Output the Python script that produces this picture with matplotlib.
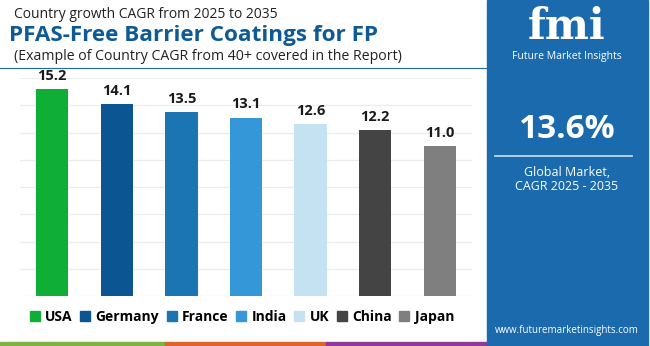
import matplotlib.pyplot as plt
from matplotlib.patches import Rectangle
from matplotlib.lines import Line2D

countries = ['USA', 'Germany', 'France', 'India', 'UK', 'China', 'Japan']
cagr = [15.2, 14.1, 13.5, 13.1, 12.6, 12.2, 11.0]
colors = ['#0fae36', '#0a5592', '#1b75b3', '#3498d8', '#c5e2f2', '#444444', '#7f7f7f']
global_cagr = '13.6%'

plt.rcParams['font.family'] = ['Open Sans', 'DejaVu Sans']

W, H = 650, 346
fig = plt.figure(figsize=(W / 100, H / 100), dpi=100)
fig.patch.set_facecolor('white')

# chart area
ax = fig.add_axes([20 / W, (H - 296) / H, 452 / W, 218 / H])
ax.bar(range(len(countries)), cagr, width=0.5, color=colors, zorder=3)
for i, v in enumerate(cagr):
    ax.text(i, v + 0.45, f'{v:.1f}', ha='center', va='bottom', fontsize=10.5,
            fontweight='bold', color='#1a1a1a')
ax.set_xlim(-0.5, 6.5)
ax.set_ylim(0, 16)
ax.set_yticks(range(0, 17, 2))
ax.grid(axis='y', color='#ececec', linewidth=0.9, zorder=0)
ax.set_xticks([])
ax.tick_params(axis='y', length=0, labelleft=False)
for s in ax.spines.values():
    s.set_visible(False)

# legend
handles = [Rectangle((0, 0), 1, 1, color=c) for c in colors]
fig.legend(handles, countries, loc='center', bbox_to_anchor=(242 / W, 1 - 317 / H),
           ncol=7, frameon=False, handlelength=0.7, handleheight=0.7,
           handletextpad=0.4, columnspacing=0.55,
           prop={'weight': 'bold', 'size': 10})

# titles
fig.text(14 / W, 1 - 15 / H, 'Country growth CAGR from 2025 to 2035', fontsize=10,
         color='#222222', va='center')
fig.text(9 / W, 1 - 35 / H, 'PFAS-Free Barrier Coatings for FP', fontsize=16.2,
         fontweight='bold', color='#0e5a96', va='center')
fig.text(14 / W, 1 - 56 / H, '(Example of Country CAGR from 40+ covered in the Report)',
         fontsize=10.2, color='#222222', va='center')
fig.add_artist(Line2D([0, 487 / W], [1 - 68 / H, 1 - 68 / H], color='#1a6aad', linewidth=0.8))

# bottom stripe
fig.add_artist(Rectangle((0, 0), 165 / W, 4 / H, color='#7cb342', transform=fig.transFigure))
fig.add_artist(Rectangle((165 / W, 0), 161 / W, 4 / H, color='#e0622d', transform=fig.transFigure))
fig.add_artist(Rectangle((326 / W, 0), 161 / W, 4 / H, color='#8e3a96', transform=fig.transFigure))

# right panel
fig.add_artist(Rectangle((487 / W, 0), 161 / W, 1, color='#1a6aad', transform=fig.transFigure))
px = 567 / W
fig.text(px, 1 - 27 / H, 'fmi', fontsize=30, fontweight='bold', color='white',
         ha='center', va='center', family='DejaVu Serif')
fig.text(px, 1 - 57 / H, 'Future Market Insights', fontsize=7.5, color='white',
         ha='center', va='center')
fig.text(px, 1 - 130 / H, global_cagr, fontsize=24, fontweight='bold', color='white',
         ha='center', va='center')
fig.add_artist(Line2D([495 / W, 632 / W], [1 - 156 / H, 1 - 156 / H], color='#cfe2f3',
                      linewidth=1.2))
fig.text(px, 1 - 173 / H, 'Global Market,', fontsize=9, color='white', ha='center', va='center')
fig.text(px, 1 - 186 / H, 'CAGR 2025 - 2035', fontsize=9, color='white', ha='center', va='center')
fig.text(px, 1 - 331 / H, 'www.futuremarketinsights.com', fontsize=7, color='white',
         ha='center', va='center')

fig.savefig('out.png', dpi=100)
